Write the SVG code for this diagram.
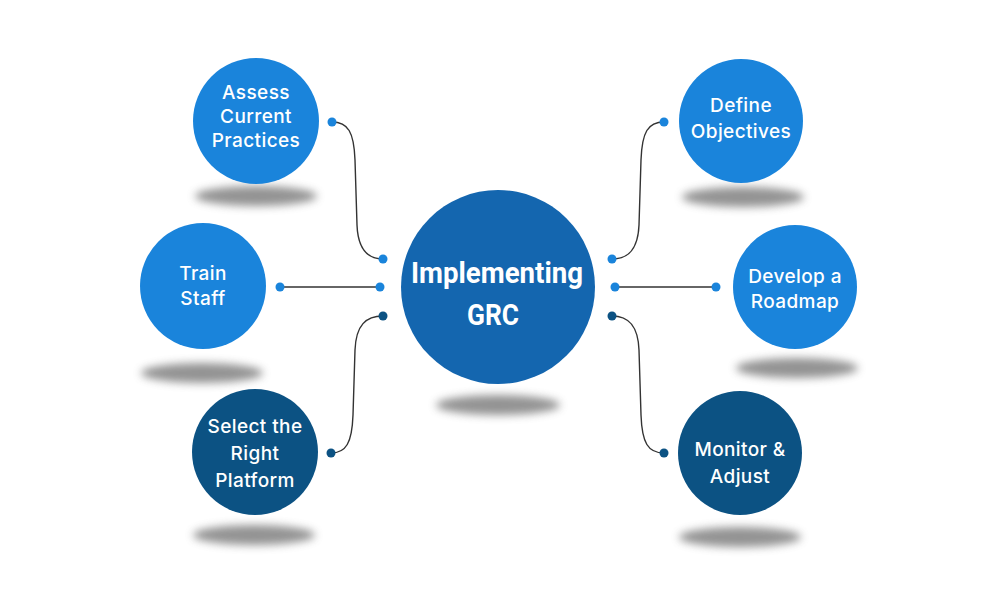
<svg xmlns="http://www.w3.org/2000/svg" width="1000" height="615" viewBox="0 0 1000 615">
<defs>
<filter id="blur" x="-30%" y="-100%" width="160%" height="300%"><feGaussianBlur stdDeviation="4"/></filter>
<style>
.light{fill:#1a84db}
.dark{fill:#0c5283}
.mid{fill:#1466af}
.sh{fill:#707070;opacity:0.75;filter:url(#blur)}
.t{fill:#fff;font-family:Inter,"Open Sans","Noto Sans",sans-serif;font-size:19px;font-weight:500;letter-spacing:0.4px;text-anchor:middle}
.big{fill:#fff;font-family:Roboto,"Liberation Sans",sans-serif;font-size:30px;font-weight:700;text-anchor:middle}
.c{fill:none;stroke:#333;stroke-width:1.4}
</style>
</defs>
<rect width="1000" height="615" fill="#fff"/>
<g id="connectors">
<path class="c" d="M332,122 C348,122 354,132 355,160 L357,225 C358,250 368,259 383,259"/>
<path class="c" d="M280,287 L380,287"/>
<path class="c" d="M331,453 C346,453 352,443 353,415 L355,350 C356,325 366,316 383,316"/>
<path class="c" d="M664,122 C648,122 642,132 641,160 L639,225 C638,250 628,259 612,259"/>
<path class="c" d="M615,287 L716,287"/>
<path class="c" d="M664,453 C648,453 642,443 641,415 L639,350 C638,325 628,316 612,316"/>
<circle class="light" cx="332" cy="122" r="4.5"/>
<circle class="light" cx="383" cy="259" r="4.5"/>
<circle class="light" cx="280" cy="287" r="4.5"/>
<circle class="light" cx="380" cy="287" r="4.5"/>
<circle class="dark" cx="331" cy="453" r="4.5"/>
<circle class="dark" cx="383" cy="316" r="4.5"/>
<circle class="light" cx="664" cy="122" r="4.5"/>
<circle class="light" cx="612" cy="259" r="4.5"/>
<circle class="light" cx="615" cy="287" r="4.5"/>
<circle class="light" cx="716" cy="287" r="4.5"/>
<circle class="dark" cx="664" cy="453" r="4.5"/>
<circle class="dark" cx="612" cy="316" r="4.5"/>
</g>
<g id="center">
<ellipse class="sh" cx="498" cy="405" rx="62" ry="10"/>
<circle class="mid" cx="498" cy="287" r="97"/>
<text class="big" x="497" y="283" textLength="172" lengthAdjust="spacingAndGlyphs">Implementing</text>
<text class="big" x="493" y="325" textLength="52" lengthAdjust="spacingAndGlyphs">GRC</text>
</g>
<g id="assess">
<ellipse class="sh" cx="256" cy="196" rx="61" ry="10"/>
<circle class="light" cx="256" cy="121" r="63"/>
<text class="t" x="256" y="99">Assess</text>
<text class="t" x="256" y="123">Current</text>
<text class="t" x="256" y="147">Practices</text>
</g>
<g id="train">
<ellipse class="sh" cx="202" cy="373" rx="61" ry="10"/>
<circle class="light" cx="203" cy="286" r="63"/>
<text class="t" x="203" y="280">Train</text>
<text class="t" x="203" y="305">Staff</text>
</g>
<g id="select">
<ellipse class="sh" cx="254" cy="535" rx="61" ry="10"/>
<circle class="dark" cx="255" cy="452" r="63"/>
<text class="t" x="255" y="433">Select the</text>
<text class="t" x="255" y="460">Right</text>
<text class="t" x="255" y="487">Platform</text>
</g>
<g id="define">
<ellipse class="sh" cx="743" cy="197" rx="61" ry="10"/>
<circle class="light" cx="741" cy="121" r="62"/>
<text class="t" x="741" y="112">Define</text>
<text class="t" x="741" y="138">Objectives</text>
</g>
<g id="roadmap">
<ellipse class="sh" cx="797" cy="368" rx="61" ry="10"/>
<circle class="light" cx="795" cy="287" r="62"/>
<text class="t" x="795" y="283">Develop a</text>
<text class="t" x="795" y="308">Roadmap</text>
</g>
<g id="monitor">
<ellipse class="sh" cx="740" cy="537" rx="61" ry="10"/>
<circle class="dark" cx="740" cy="453" r="62"/>
<text class="t" x="740" y="456">Monitor &amp;</text>
<text class="t" x="740" y="483">Adjust</text>
</g>
</svg>
